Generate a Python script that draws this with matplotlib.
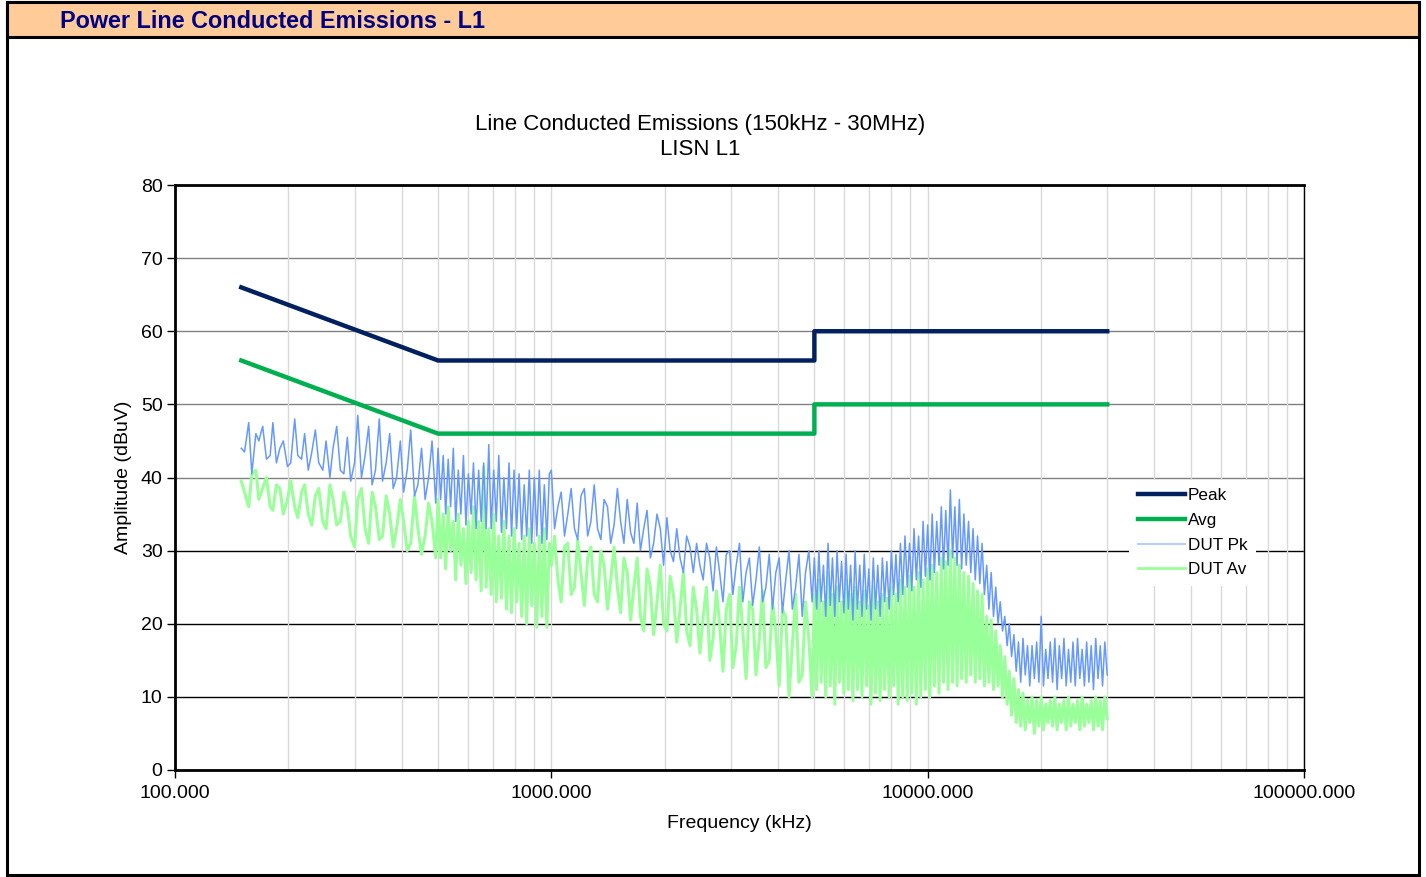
import numpy as np
import matplotlib
matplotlib.use('Agg')
import matplotlib.pyplot as plt
from matplotlib.patches import Rectangle
from matplotlib.ticker import LogLocator, FuncFormatter, NullFormatter

plt.rcParams['font.family'] = ['Liberation Sans', 'DejaVu Sans']

# limit lines (kHz, dBuV)
limit_f = [150, 500, 5000, 5000, 30000]
peak_lim = [66, 56, 56, 60, 60]
avg_lim = [56, 46, 46, 50, 50]

freq_khz = [
    # 150 - 500 kHz
    150, 153, 157, 160, 164, 167, 171, 175, 179, 182, 186, 190, 194, 199, 203, 208,
    212, 217, 221, 226, 231, 236, 241, 247, 252, 258, 263, 269, 275, 281, 287, 293,
    300, 306, 313, 320, 327, 334, 341, 349, 356, 364, 372, 380, 388, 397, 405, 414,
    423, 433, 442, 452, 462, 472, 482, 493,
    # 500 kHz - 1 MHz
    500, 508, 516, 524, 532, 540, 549, 557, 566, 575, 584, 593, 602, 612, 621, 631,
    641, 651, 661, 671, 682, 692, 703, 714, 725, 737, 748, 760, 772, 784, 796, 809,
    821, 834, 847, 860, 874, 887, 901, 915, 929, 944, 958, 973, 988,
    # 1 - 5 MHz
    1000, 1020, 1041, 1062, 1084, 1106, 1129, 1152, 1175, 1199, 1224, 1249, 1274, 1300,
    1327, 1354, 1381, 1410, 1438, 1468, 1498, 1528, 1559, 1591, 1624, 1657, 1691, 1725,
    1760, 1796, 1833, 1870, 1909, 1948, 1987, 2028, 2069, 2111, 2154, 2198, 2243, 2289,
    2336, 2383, 2432, 2482, 2532, 2584, 2637, 2690, 2745, 2801, 2858, 2917, 2976, 3037,
    3099, 3162, 3227, 3292, 3359, 3428, 3498, 3570, 3642, 3717, 3793, 3870, 3949, 4030,
    4112, 4196, 4281, 4369, 4458, 4549, 4642, 4736, 4833, 4931,
    # 5 - 30 MHz
    5000, 5070, 5140, 5210, 5285, 5360, 5435, 5510, 5585, 5665, 5745, 5825, 5905, 5990,
    6070, 6155, 6240, 6330, 6415, 6505, 6600, 6690, 6785, 6880, 6975, 7070, 7170, 7270,
    7370, 7475, 7580, 7685, 7790, 7900, 8010, 8120, 8235, 8350, 8465, 8585, 8705, 8825,
    8950, 9075, 9200, 9330, 9460, 9590, 9725, 9860, 10000, 10140, 10280, 10420, 10570,
    10720, 10870, 11020, 11170, 11330, 11490, 11650, 11810, 11970, 12140, 12310, 12480,
    12660, 12840, 13020, 13200, 13380, 13570, 13760, 13950, 14150, 14350, 14550, 14750,
    14960, 15170, 15380, 15590, 15810, 16030, 16260, 16480, 16710, 16950, 17190, 17430,
    17670, 17920, 18170, 18420, 18680, 18940, 19210, 19480, 19750, 20030, 20310, 20590,
    20880, 21170, 21470, 21770, 22080, 22380, 22700, 23020, 23340, 23670, 24000, 24330,
    24670, 25020, 25370, 25730, 26090, 26450, 26820, 27200, 27580, 27960, 28360, 28750,
    29150, 29560, 30000,
]

dut_pk = [
    44, 43.5, 47.5, 40.5, 46, 45, 47, 42.5, 43, 47.5,
    42, 44, 45, 41.5, 42, 48, 43, 42.5, 46, 41,
    43.5, 46.5, 42, 41, 45, 40, 44, 47, 41, 40.5,
    45.5, 39.5, 42, 48.5, 40, 43, 47, 39, 41, 48,
    39.5, 42, 46, 38.5, 40, 45, 38, 41, 46.5, 37.5,
    39, 44, 37, 40, 45, 36.5,
    44, 37, 43, 35, 42.5, 36, 44, 34, 41, 35,
    43, 33.5, 40.5, 35, 42, 33, 41, 34, 42, 33,
    44.5, 33, 41, 34, 43, 32.5, 40, 33, 42, 32,
    41, 33, 40.5, 31.5, 39, 32, 41, 31, 40, 32,
    41, 31, 39, 31.5, 40.5,
    41, 33, 36, 38, 32, 35, 38.5, 33, 31.5, 37.5,
    38.5, 32, 34, 39, 33, 31.5, 37, 36, 31, 33.5,
    38.5, 34, 31, 37, 32.5, 31, 36.5, 30, 33, 35.5,
    29, 31, 35, 33, 28, 34.5, 30, 28.5, 33, 29,
    27, 32, 30.5, 27, 31, 28, 26, 31, 29, 24.5,
    30.5, 27, 23, 29.5, 30, 24, 28, 31, 23, 27,
    29, 22.5, 26, 30.5, 23, 25, 29.5, 22, 27, 29,
    21.5, 26, 30, 22, 25, 29.5, 21, 27, 30, 23,
    29, 22, 30, 23, 28, 21, 31, 22.5, 29, 21,
    30, 23, 28.5, 21.5, 29.5, 22, 28, 20.5, 30, 22,
    28, 21, 29.5, 22, 27.5, 20.5, 29, 22, 28, 21,
    29, 23, 28.5, 22, 30, 24, 29.5, 23, 31, 24,
    32, 25, 31, 24.5, 33, 26, 32, 25, 34, 26.5,
    33.5, 26, 35, 27, 34, 28, 36, 27.5, 35.5, 28,
    38.3, 29, 36, 28, 37, 27.5, 35, 28, 34, 27,
    33, 26, 32, 25.5, 31, 24, 28, 22, 27, 21,
    25, 20, 23, 19, 21, 17, 20, 15.5, 18.5, 13.5,
    17.5, 12, 18, 13, 17, 11.5, 17, 12.5, 17.5, 12,
    21, 11.5, 16.5, 12.5, 17.5, 12, 18, 11, 17, 12.5,
    18, 11.5, 16.5, 12, 17.5, 11.5, 18, 12.5, 16.5, 11.5,
    17.5, 12, 17, 11, 18, 12.5, 17, 11.5, 17.5, 13,
]

dut_av = [
    39.5, 38, 36, 40.5, 41, 37, 38.5, 40, 36, 35.5,
    39, 38.5, 35, 37, 39.5, 36, 34.5, 38, 39, 35,
    33.5, 37.5, 38.5, 34, 33, 39, 37, 33.5, 34, 38,
    36, 32, 30.5, 37, 38.5, 33, 31, 38, 36, 31.5,
    32, 37.5, 35, 30.5, 33, 37, 34, 30, 31, 37.5,
    33, 29.5, 32, 36.5, 34, 29,
    37, 29, 35, 27.5, 36, 30, 34, 26, 35, 28,
    33, 25.5, 34, 27, 36, 26, 34, 24.5, 41.5, 25,
    33, 24, 35, 23, 32, 23.5, 34, 22, 32, 21.5,
    33, 23, 31, 21, 32, 20, 33, 22.5, 31, 19.5,
    32, 21, 33, 19.5, 31,
    28, 32, 26, 23, 30.5, 31, 24, 25, 31.5, 27,
    22.5, 29, 30.5, 24, 23, 30, 28, 22, 26, 30.5,
    25, 21.5, 29, 27, 20.5, 25, 29, 21, 19, 27.5,
    25, 18.5, 23, 28, 20, 19, 26.5, 24, 17.5, 22,
    27, 19, 17, 25, 22, 16, 21, 25, 15, 18,
    24.5, 20, 13.5, 22, 24, 14, 17, 25, 19, 12.5,
    23, 22, 13, 18, 24.5, 14, 15, 23, 19, 11.5,
    22, 21, 10, 17, 24, 12, 13, 23, 18, 10,
    24, 11, 26, 12, 23, 10, 27, 11.5, 24, 9,
    25, 12, 23, 10.5, 26, 11, 24, 9.5, 25, 11,
    23, 10, 24.5, 11.5, 22.5, 9, 25, 10.5, 23, 9.5,
    24, 11, 23.5, 10, 25, 11.5, 24, 9, 26, 10,
    25, 9.5, 26.5, 10.5, 25, 9, 27, 10, 26, 11,
    27.5, 10, 28, 11.5, 27, 10.5, 29, 12, 28.5, 11,
    30, 12, 29, 11.5, 28, 12.5, 27, 12, 26.5, 13,
    25.5, 12, 24.5, 12.5, 24, 11.5, 21, 12, 20.5, 11,
    19, 11.5, 17, 10, 15.5, 9, 13.5, 7.5, 12.5, 6.5,
    11, 6, 10.5, 5.5, 9.5, 6.5, 10, 5, 9.5, 6,
    10, 5.5, 9, 6.5, 9.5, 6, 10, 5.5, 9, 6.5,
    9.5, 5.5, 10, 6, 9, 6.5, 9.5, 5.5, 10, 6,
    9, 6.5, 9.5, 5.5, 10, 6, 9.5, 5.5, 10, 7,
]

W, H = 1426, 877
fig = plt.figure(figsize=(W / 100, H / 100), dpi=100)

# page frame and header band
fig.patches.append(Rectangle((7 / W, 1 - 875 / H), 1412 / W, 873 / H, transform=fig.transFigure,
                             fill=False, edgecolor='black', lw=2.2, zorder=0))
fig.patches.append(Rectangle((7 / W, 1 - 37 / H), 1412 / W, 35 / H, transform=fig.transFigure,
                             facecolor='#FFCC99', edgecolor='black', lw=2.2, zorder=0))
fig.text(60 / W, 1 - 21 / H, 'Power Line Conducted Emissions - L1', color='#000080',
         fontsize=16.8, fontweight='bold', va='center', ha='left')
fig.text(700 / W, 1 - 137 / H, 'Line Conducted Emissions (150kHz - 30MHz)\nLISN L1',
         fontsize=16, ha='center', va='center', linespacing=1.2)

ax = fig.add_axes([175 / W, 1 - 770 / H, 1129 / W, 585 / H])
ax.set_xscale('log')
ax.set_xlim(100, 100000)
ax.set_ylim(0, 80)
ax.set_yticks(range(0, 81, 10))

ax.xaxis.set_major_locator(LogLocator(base=10))
ax.xaxis.set_minor_locator(LogLocator(base=10, subs=np.arange(2, 10)))
ax.xaxis.set_major_formatter(FuncFormatter(lambda v, p: '%.3f' % v))
ax.xaxis.set_minor_formatter(NullFormatter())
ax.tick_params(axis='x', which='minor', length=0)
ax.tick_params(axis='both', which='major', direction='out', length=6, width=1,
               labelsize=14, pad=3)
ax.tick_params(axis='x', which='major', pad=5)

ax.grid(axis='x', which='both', color='#D9D9D9', lw=1, zorder=0)
for yv in range(10, 80, 10):
    ax.axhline(yv, color='#808080' if yv >= 40 else '#000000', lw=1, zorder=0)

for side in ['left', 'bottom', 'top']:
    ax.spines[side].set_linewidth(2)
ax.spines['right'].set_linewidth(1)

ax.plot(freq_khz, dut_av, color='#99FF99', lw=2.2, label='DUT Av', zorder=2)
ax.plot(freq_khz, dut_pk, color='#6699FF', lw=1.1, label='DUT Pk', zorder=3)
ax.plot(limit_f, peak_lim, color='#002060', lw=3.2, label='Peak', zorder=4)
ax.plot(limit_f, avg_lim, color='#00B050', lw=3.2, label='Avg', zorder=4)

h, lab = ax.get_legend_handles_labels()
order = [lab.index(n) for n in ['Peak', 'Avg', 'DUT Pk', 'DUT Av']]
leg = ax.legend([h[i] for i in order], [lab[i] for i in order], loc='upper left',
                bbox_to_anchor=(0.845, 0.496), fontsize=12.3, frameon=True,
                facecolor='white', edgecolor='none', framealpha=1, fancybox=False,
                handlelength=2.8, handletextpad=0.15, labelspacing=0.56,
                borderpad=0.5, borderaxespad=0)
leg.set_zorder(5)
leg.get_lines()[2].set_color('#B4CCFF')
leg.get_lines()[2].set_linewidth(1.5)
leg.get_lines()[3].set_linewidth(2.0)

ax.set_xlabel('Frequency (kHz)', fontsize=14, labelpad=9)
ax.set_ylabel('Amplitude (dBuV)', fontsize=14, labelpad=6)

fig.savefig('out.png', dpi=100, facecolor='white')
